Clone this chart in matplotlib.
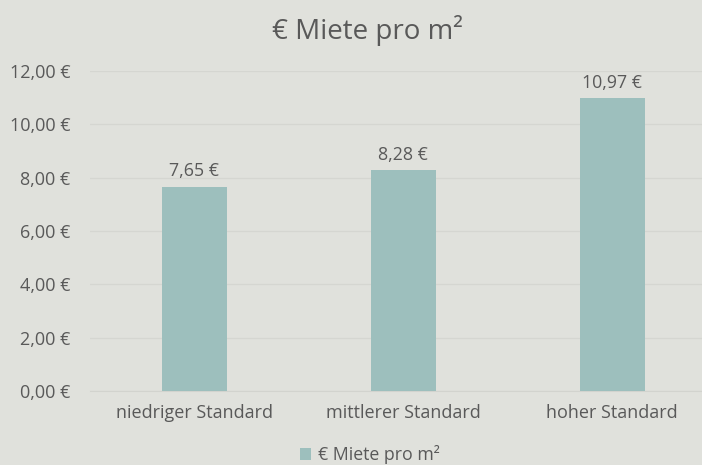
import matplotlib.pyplot as plt
from matplotlib.ticker import FuncFormatter
import numpy as np

categories = ['niedriger Standard', 'mittlerer Standard', 'hoher Standard']
miete = [7.65, 8.28, 10.97]
series_name = '€ Miete pro m²'

bg = '#E0E1DC'
bar_color = '#9DBFBD'
txt = '#595959'

plt.rcParams['font.family'] = ['Open Sans', 'DejaVu Sans']

fig = plt.figure(figsize=(7.02, 4.65), dpi=100, facecolor=bg)
ax = fig.add_axes([90 / 702, 74 / 465, 1 - 90 / 702, 320 / 465], facecolor=bg)

x = np.arange(len(categories))
bars = ax.bar(x, miete, width=0.31, color=bar_color, label=series_name, zorder=3)

def euro(v, pos=None):
    return f'{v:.2f}'.replace('.', ',') + ' €'

for b, v in zip(bars, miete):
    ax.text(b.get_x() + b.get_width() / 2, v + 0.25, euro(v),
            ha='center', va='bottom', fontsize=12.8, color=txt)

ax.set_ylim(0, 12)
ax.set_yticks(np.arange(0, 13, 2))
ax.yaxis.set_major_formatter(FuncFormatter(euro))
ax.set_xlim(-0.5, 2.43)
ax.set_xticks(x)
ax.set_xticklabels(categories)
ax.tick_params(axis='both', length=0, labelsize=13, colors=txt)
ax.tick_params(axis='x', pad=9)
ax.tick_params(axis='y', pad=14)
ax.grid(axis='y', color='#D5D6D1', linewidth=0.9, zorder=0)
for s in ['top', 'right', 'left']:
    ax.spines[s].set_visible(False)
ax.spines['bottom'].set_color('#D2D3CE')

fig.text(0.523, 0.935, series_name, ha='center', va='center', fontsize=20, color=txt)
fig.legend(handles=[bars], labels=[series_name], loc='center', bbox_to_anchor=(0.527, 0.022),
           frameon=False, fontsize=12.8, labelcolor=txt, handlelength=0.65, handleheight=0.65,
           handletextpad=0.4)

plt.savefig('out.png', dpi=100, facecolor=bg)
